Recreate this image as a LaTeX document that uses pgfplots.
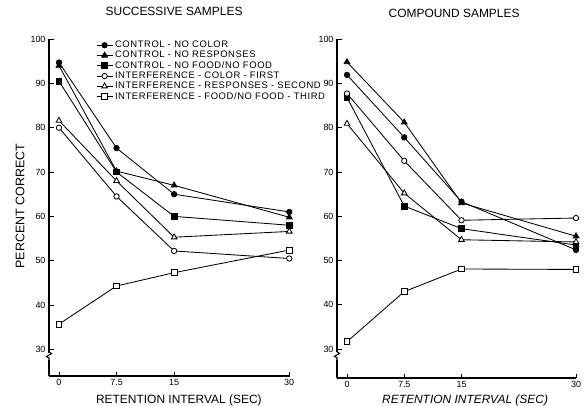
\documentclass[border=0pt]{standalone}
\usepackage{pgfplots}
\pgfplotsset{compat=1.18}
\usepackage{fontspec}
\setmainfont{Liberation Sans}
\newfontfamily\legfont[LetterSpace=6]{Liberation Sans}
\pgfplotsset{
  panel/.style={
    axis lines=left, axis line style={-, line width=1.1pt},
    scale only axis, clip=false,
    ytick={30,40,...,100}, xtick={0,7.5,15,30}, xticklabels={0,7.5,15,30},
    tick align=inside, major tick length=4.5bp,
    tick style={line width=0.8pt, black},
    ticklabel style={font=\fontsize{9}{10}\selectfont},
    /pgf/number format/assume math mode=true,
    every axis plot/.append style={black, line width=0.85pt},
    legend image code/.code={\draw[mark repeat=2,mark phase=2] plot coordinates {(0bp,0bp) (8bp,0bp) (16bp,0bp)};},
  },
  cc/.style={mark=*, mark size=2.7pt, mark options={fill=black, solid}},
  cr/.style={mark=triangle*, mark size=3.3pt, mark options={fill=black, solid}},
  cf/.style={mark=square*, mark size=2.9pt, mark options={fill=black, solid}},
  ic/.style={mark=*, mark size=2.7pt, mark options={fill=white, solid}},
  ir/.style={mark=triangle*, mark size=3.3pt, mark options={fill=white, solid}},
  if/.style={mark=square*, mark size=2.9pt, mark options={fill=white, solid}},
}
\begin{document}
\begin{tikzpicture}
\useasboundingbox (0,0) rectangle (587bp,-406bp);
% Left panel
\begin{axis}[panel, at={(49bp,-376bp)}, anchor=south west,
  width=241bp, height=337bp, xmin=-1.3, xmax=30.1, ymin=24, ymax=100,
  title={SUCCESSIVE SAMPLES},
  title style={at={(axis description cs:0.519,1)}, anchor=base, yshift=17.3bp, font=\fontsize{12}{14}\selectfont},
  xlabel={RETENTION INTERVAL (SEC)},
  xlabel style={at={(axis description cs:0.539,0)}, anchor=base, yshift=-27bp, font=\fontsize{12}{14}\selectfont},
  ylabel={PERCENT CORRECT},
  ylabel style={at={(axis description cs:-0.12,0.504)}, anchor=center, font=\fontsize{12.5}{14}\selectfont},
  legend style={at={(0.195,1.0)}, anchor=north west, draw=none, fill=none,
    font=\legfont\fontsize{9.5}{10}\selectfont, row sep=-1.9bp, inner sep=0pt},
  legend cell align=left,
]
\addplot[cc] coordinates {(0,94.7) (7.5,75.4) (15,65.0) (30,61.0)};
\addlegendentry{CONTROL - NO COLOR}
\addplot[cr] coordinates {(0,94.0) (7.5,70.2) (15,67.0) (30,59.8)};
\addlegendentry{CONTROL - NO RESPONSES}
\addplot[cf] coordinates {(0,90.5) (7.5,70.0) (15,60.0) (30,58.0)};
\addlegendentry{CONTROL - NO FOOD/NO FOOD}
\addplot[ic] coordinates {(0,80.0) (7.5,64.5) (15,52.2) (30,50.5)};
\addlegendentry{INTERFERENCE - COLOR - FIRST}
\addplot[ir] coordinates {(0,81.6) (7.5,68.0) (15,55.3) (30,56.6)};
\addlegendentry{INTERFERENCE - RESPONSES - SECOND}
\addplot[if] coordinates {(0,35.7) (7.5,44.3) (15,47.3) (30,52.4)};
\addlegendentry{INTERFERENCE - FOOD/NO FOOD - THIRD}
\draw[white, line width=4pt] (axis cs:-1.3,29.3) -- (axis cs:-1.3,27.6);
\draw[line width=1.1pt] (axis cs:-1.3,29.4) -- ++(2.5bp,-1.5bp) -- ++(-5bp,-3bp) -- ++(2.5bp,-1.5bp) -- (axis cs:-1.3,26.8);
\end{axis}
% Right panel
\begin{axis}[panel, at={(337bp,-378bp)}, anchor=south west,
  width=239bp, height=339bp, xmin=-1.31, xmax=30, ymin=23.5, ymax=100,
  title={COMPOUND SAMPLES},
  title style={at={(axis description cs:0.49,1)}, anchor=base, yshift=15.7bp, font=\fontsize{12}{14}\selectfont},
  xlabel={\itshape RETENTION INTERVAL (SEC)},
  xlabel style={at={(axis description cs:0.536,0)}, anchor=base, yshift=-25bp, font=\fontsize{12}{14}\selectfont},
]
\addplot[cc] coordinates {(0,91.9) (7.5,77.8) (15,63.3) (30,52.4)};
\addplot[cr] coordinates {(0,94.8) (7.5,81.2) (15,63.0) (30,55.5)};
\addplot[cf] coordinates {(0,86.8) (7.5,62.3) (15,57.2) (30,53.5)};
\addplot[ic] coordinates {(0,87.7) (7.5,72.5) (15,59.1) (30,59.6)};
\addplot[ir] coordinates {(0,80.9) (7.5,65.2) (15,54.7) (30,54.2)};
\addplot[if] coordinates {(0,31.7) (7.5,43.0) (15,48.1) (30,48.0)};
\draw[white, line width=4pt] (axis cs:-1.31,29.3) -- (axis cs:-1.31,27.6);
\draw[line width=1.1pt] (axis cs:-1.31,29.4) -- ++(2.5bp,-1.5bp) -- ++(-5bp,-3bp) -- ++(2.5bp,-1.5bp) -- (axis cs:-1.31,26.8);
\end{axis}
\end{tikzpicture}
\end{document}
